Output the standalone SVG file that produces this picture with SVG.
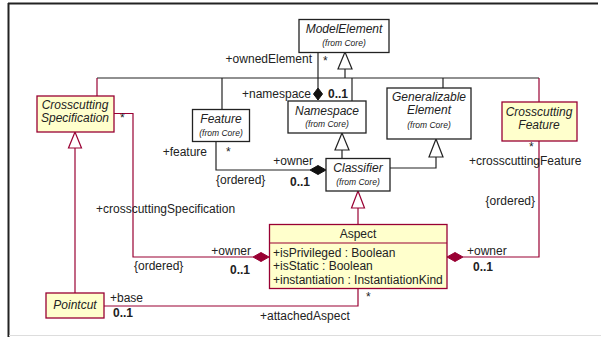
<svg xmlns="http://www.w3.org/2000/svg" width="601" height="337" viewBox="0 0 601 337">
<style>
text{font-family:"Liberation Sans",Arial,sans-serif;font-size:12px;fill:#222}
.it{font-style:italic}
.sm{font-size:8.5px;font-style:italic}
.b{font-weight:bold}
.mid{text-anchor:middle}
.end{text-anchor:end}
.core{fill:#fff;stroke:#222;stroke-width:1.3}
.cc{fill:#ffffcc;stroke:#990033;stroke-width:1.3}
.lk{fill:none;stroke:#222;stroke-width:1.2}
.lr{fill:none;stroke:#990033;stroke-width:1.2}
.tk{fill:#fff;stroke:#222;stroke-width:1.2}
.tr{fill:#fff;stroke:#990033;stroke-width:1.2}
.dk{fill:#111;stroke:#111}
.dr{fill:#990033;stroke:#990033}
</style>
<rect x="0" y="0" width="601" height="337" fill="#fff"/>
<g id="frame">
<line x1="8" y1="3.5" x2="598" y2="3.5" stroke="#222" stroke-width="2"/>
<line x1="8.5" y1="3" x2="8.5" y2="337" stroke="#222" stroke-width="2"/>
<line x1="9" y1="335.5" x2="601" y2="335.5" stroke="#ddd" stroke-width="1"/>
</g>
<g id="connectors">
<polyline class="lk" points="345,69 345,78"/>
<polyline class="lk" points="97,78 539,78"/>
<polyline class="lr" points="97,78 97,96"/>
<polyline class="lk" points="222,78 222,109"/>
<polyline class="lk" points="352,78 352,101"/>
<polyline class="lk" points="443,78 443,88"/>
<polyline class="lr" points="539,78 539,102"/>
<polygon class="tk" points="345,52 338,69 352,69"/>
<polyline class="lk" points="318,52 318,88"/>
<polygon class="dk" points="318,88 322.5,94 318,100 313.5,94"/>
<polyline class="lk" points="216,141 216,170 310,170"/>
<polygon class="dk" points="310,170 318,165.5 326,170 318,174.5"/>
<polyline class="lk" points="342,150 342,158"/>
<polygon class="tk" points="342,133 335,150 349,150"/>
<polyline class="lk" points="390,168 436,168 436,157"/>
<polygon class="tk" points="436,139 429,157 443,157"/>
<polyline class="lr" points="358,208 358,224"/>
<polygon class="tr" points="358,191 351.5,208 364.5,208"/>
<polyline class="lr" points="463,257 539,257 539,141"/>
<polygon class="dr" points="447,257 455,252.5 463,257 455,261.5"/>
<polyline class="lr" points="114,113.5 133,113.5 133,257 253,257"/>
<polygon class="dr" points="253,257 261,252.5 269,257 261,261.5"/>
<polyline class="lr" points="75,148 75,293"/>
<polygon class="tr" points="75,132 68.5,148 81.5,148"/>
<polyline class="lr" points="104,306 358,306 358,288"/>
</g>
<g id="labels">
<text x="312" y="63" class="end">+ownedElement</text>
<text x="323" y="65">*</text>
<text x="311" y="98" class="end">+namespace</text>
<text x="328" y="98" class="b">0..1</text>
<text x="207" y="156" class="end">+feature</text>
<text x="226" y="156">*</text>
<text x="216" y="184">{ordered}</text>
<text x="313" y="165" class="end">+owner</text>
<text x="290" y="186" class="b">0..1</text>
<text x="529" y="151">*</text>
<text x="469" y="165">+crosscuttingFeature</text>
<text x="535" y="205" class="end">{ordered}</text>
<text x="467" y="255">+owner</text>
<text x="473" y="271" class="b">0..1</text>
<text x="120" y="122">*</text>
<text x="96" y="213">+crosscuttingSpecification</text>
<text x="251" y="255" class="end">+owner</text>
<text x="230" y="274" class="b">0..1</text>
<text x="134" y="270">{ordered}</text>
<text x="110" y="302">+base</text>
<text x="113" y="317" class="b">0..1</text>
<text x="366" y="301">*</text>
<text x="260" y="320">+attachedAspect</text>
</g>
<g id="ModelElement">
<rect class="core" x="299" y="19.5" width="90" height="33"/>
<text x="344" y="33" class="it mid">ModelElement</text>
<text x="344" y="46" class="sm mid">(from Core)</text>
</g>
<g id="Namespace">
<rect class="core" x="288" y="101" width="78" height="32"/>
<text x="327" y="115" class="it mid">Namespace</text>
<text x="327" y="127" class="sm mid">(from Core)</text>
</g>
<g id="Feature">
<rect class="core" x="192.5" y="109.5" width="57" height="32"/>
<text x="221" y="123" class="it mid">Feature</text>
<text x="221" y="136" class="sm mid">(from Core)</text>
</g>
<g id="GeneralizableElement">
<rect class="core" x="387" y="88" width="84" height="51"/>
<text x="429" y="101" class="it mid">Generalizable</text>
<text x="429" y="114" class="it mid">Element</text>
<text x="429" y="128" class="sm mid">(from Core)</text>
</g>
<g id="Classifier">
<rect class="core" x="326" y="158.5" width="64" height="32.5"/>
<text x="358" y="172" class="it mid">Classifier</text>
<text x="358" y="185" class="sm mid">(from Core)</text>
</g>
<g id="CrosscuttingSpecification">
<rect class="cc" x="37" y="96" width="77" height="36"/>
<text x="75" y="109" class="it mid">Crosscutting</text>
<text x="75" y="122" class="it mid">Specification</text>
</g>
<g id="CrosscuttingFeature">
<rect class="cc" x="502" y="102" width="75" height="39"/>
<text x="539" y="116" class="it mid">Crosscutting</text>
<text x="539" y="129" class="it mid">Feature</text>
</g>
<g id="Aspect">
<rect class="cc" x="269.5" y="224.5" width="177.5" height="64"/>
<line x1="269.5" y1="243" x2="447" y2="243" stroke="#990033" stroke-width="1.2"/>
<text x="358" y="238" class="mid">Aspect</text>
<text x="273" y="257">+isPrivileged : Boolean</text>
<text x="273" y="270">+isStatic : Boolean</text>
<text x="273" y="284">+instantiation : InstantiationKind</text>
</g>
<g id="Pointcut">
<rect class="cc" x="46" y="293" width="58" height="25"/>
<text x="75" y="309" class="it mid">Pointcut</text>
</g>
</svg>
